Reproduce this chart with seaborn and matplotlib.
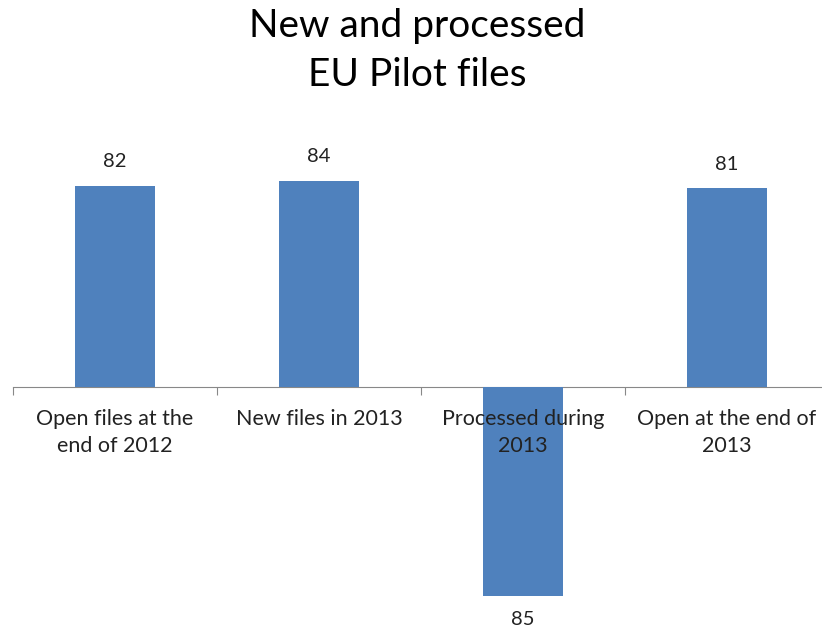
import pandas as pd
import seaborn as sns
import matplotlib.pyplot as plt
import numpy as np

# Chart data
categories = ['Open files at the\nend of 2012', 'New files in 2013',
              'Processed during\n2013', 'Open at the end of\n2013']
values = [82, 84, -85, 81]

df = pd.DataFrame({'category': categories, 'files': values})

sns.set_style('white')
plt.rcParams['font.family'] = ['Lato', 'DejaVu Sans']

fig = plt.figure(figsize=(8.22, 6.36), dpi=100)
ax = fig.add_axes([13 / 822, 28 / 636, 816 / 822, 442 / 636])

sns.barplot(data=df, x='category', y='files', color='#4F81BD',
            width=0.39, saturation=1, linewidth=0, ax=ax)
ax.set_ylim(-90, 90)
ax.set_xlim(-0.5, 3.5)

# Labels with absolute values, like the original
ax.bar_label(ax.containers[0], labels=[str(abs(v)) for v in values],
             padding=11, fontsize=14.5, color='#222222')

# Axis line through zero, ticks between categories
for s in ['top', 'right', 'left']:
    ax.spines[s].set_visible(False)
ax.spines['bottom'].set_position(('data', 0))
ax.spines['bottom'].set_color('#888888')
ax.spines['bottom'].set_zorder(0)
ax.set_yticks([])
ax.set_xticks(np.arange(-0.5, 3.5, 1))
ax.set_xticklabels([])
ax.tick_params(axis='x', which='major', direction='out', length=6,
               color='#888888', bottom=True)
ax.set_xticks(np.arange(0, 4), minor=True)
ax.set_xticklabels(categories, minor=True, fontsize=15.5, color='#222222',
                   linespacing=1.45)
ax.tick_params(axis='x', which='minor', length=0, pad=16)
ax.xaxis.set_zorder(5)
ax.set_xlabel('')
ax.set_ylabel('')

fig.text(0.508, 0.987, 'New and processed\nEU Pilot files', ha='center',
         va='top', fontsize=28, linespacing=1.45, color='black')

fig.savefig('out.png', dpi=100)
